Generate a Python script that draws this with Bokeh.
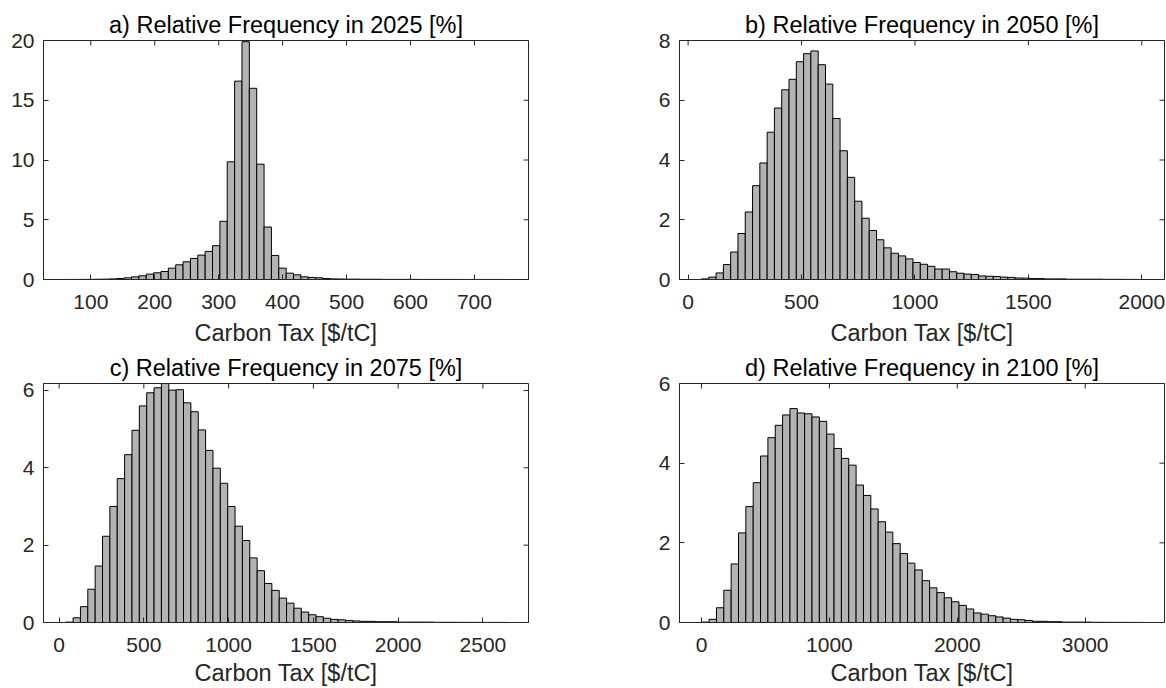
import numpy as np
from bokeh.plotting import figure
from bokeh.models import ColumnDataSource, FixedTicker, Range1d
from bokeh.layouts import column, row
from bokeh.embed import file_html
from bokeh.resources import INLINE

# ---------------- data ----------------
titles = ["a) Relative Frequency in 2025 [%]", "b) Relative Frequency in 2050 [%]",
          "c) Relative Frequency in 2075 [%]", "d) Relative Frequency in 2100 [%]"]
xlabel = "Carbon Tax [$/tC]"

# histogram bin range (min, max of carbon tax sample), 60 bins each
range_2025 = (60, 751)
range_2050 = (59, 1988)
range_2075 = (39, 2645)
range_2100 = (2, 3450)

freq_2025 = [0.005, 0.005, 0.01, 0.01, 0.02, 0.03, 0.05, 0.08, 0.14, 0.22,
             0.31, 0.45, 0.56, 0.67, 0.95, 1.23, 1.48, 1.76, 2.04, 2.35,
             2.83, 4.87, 9.85, 16.6, 19.9, 16.0, 9.65, 4.39, 2.01, 0.95,
             0.53, 0.39, 0.22, 0.17, 0.14, 0.08, 0.05, 0.04, 0.03, 0.03,
             0.02, 0.02, 0.02, 0.01, 0.01, 0.01, 0.01, 0.01, 0.005, 0.005,
             0.005, 0.005, 0.004, 0.004, 0.003, 0.003, 0.003, 0.002, 0.002, 0.002]
freq_2050 = [0.02, 0.08, 0.22, 0.50, 0.92, 1.54, 2.26, 3.14, 3.90, 4.93,
             5.74, 6.35, 6.70, 7.29, 7.56, 7.65, 7.19, 6.54, 5.39, 4.31,
             3.42, 2.62, 2.05, 1.64, 1.33, 1.06, 0.88, 0.79, 0.69, 0.57,
             0.51, 0.44, 0.35, 0.35, 0.26, 0.21, 0.18, 0.17, 0.12, 0.11,
             0.10, 0.08, 0.07, 0.05, 0.045, 0.03, 0.03, 0.02, 0.02, 0.02,
             0.01, 0.01, 0.01, 0.01, 0.01, 0.005, 0.005, 0.005, 0.003, 0.003]
freq_2075 = [0.01, 0.12, 0.41, 0.86, 1.46, 2.23, 3.00, 3.72, 4.34, 4.97,
             5.60, 5.94, 6.07, 6.18, 6.01, 6.02, 5.68, 5.45, 4.98, 4.45,
             3.99, 3.60, 3.00, 2.49, 2.12, 1.67, 1.34, 1.01, 0.83, 0.63,
             0.50, 0.37, 0.27, 0.20, 0.15, 0.11, 0.08, 0.07, 0.05, 0.04,
             0.03, 0.03, 0.02, 0.02, 0.02, 0.01, 0.01, 0.01, 0.01, 0.01,
             0.005, 0.005, 0.005, 0.004, 0.004, 0.003, 0.003, 0.002, 0.002, 0.002]
freq_2100 = [0.01, 0.08, 0.37, 0.81, 1.47, 2.25, 2.91, 3.51, 4.18, 4.64,
             4.95, 5.21, 5.37, 5.26, 5.24, 5.16, 5.05, 4.73, 4.37, 4.12,
             3.95, 3.45, 3.19, 2.85, 2.53, 2.27, 1.98, 1.73, 1.49, 1.32,
             1.05, 0.87, 0.75, 0.62, 0.52, 0.43, 0.34, 0.24, 0.21, 0.17,
             0.14, 0.11, 0.08, 0.07, 0.05, 0.03, 0.03, 0.02, 0.02, 0.01,
             0.01, 0.01, 0.01, 0.005, 0.005, 0.004, 0.003, 0.003, 0.002, 0.002]

xticks_2025 = [100, 200, 300, 400, 500, 600, 700]
xticks_2050 = [0, 500, 1000, 1500, 2000]
xticks_2075 = [0, 500, 1000, 1500, 2000, 2500]
xticks_2100 = [0, 1000, 2000, 3000]
yticks_2025 = [0, 5, 10, 15, 20]
yticks_2050 = [0, 2, 4, 6, 8]
yticks_2075 = [0, 2, 4, 6]
yticks_2100 = [0, 2, 4, 6]

# ---------------- styling ----------------
AX = "#262626"
FONT = "Liberation Sans"
FW = 485
FH = 239


def style_axis(ax, ticks):
    ax.ticker = FixedTicker(ticks=ticks)
    ax.major_tick_in = 5
    ax.major_tick_out = 0
    ax.minor_tick_in = 0
    ax.minor_tick_out = 0
    ax.axis_line_color = AX
    ax.major_tick_line_color = AX
    ax.major_label_text_font = FONT
    ax.major_label_text_color = AX
    ax.major_label_text_font_size = "21px"


def panel(freq, rng, title, xr, yr, xticks, yticks, bl, br, bt, bb, lab_gap):
    n = len(freq)
    edges = np.linspace(rng[0], rng[1], n + 1)
    src = ColumnDataSource(dict(left=edges[:-1], right=edges[1:], top=freq,
                                bottom=[0.0] * n))
    p = figure(width=bl + FW + br, height=bt + FH + bb,
               frame_width=FW, frame_height=FH,
               output_backend="svg", toolbar_location=None,
               x_range=Range1d(*xr), y_range=Range1d(*yr),
               min_border_left=bl, min_border_right=br,
               min_border_top=bt, min_border_bottom=bb)
    p.quad(left="left", right="right", top="top", bottom="bottom", source=src,
           fill_color="#b3b3b3", line_color="black", line_width=1)
    p.xgrid.visible = False
    p.ygrid.visible = False
    p.outline_line_color = AX
    p.background_fill_color = "white"
    p.border_fill_color = "white"

    style_axis(p.xaxis[0], xticks)
    style_axis(p.yaxis[0], yticks)
    p.xaxis[0].major_label_standoff = 15
    p.yaxis[0].major_label_standoff = 9
    p.xaxis[0].axis_label = xlabel
    p.xaxis[0].axis_label_text_font = FONT
    p.xaxis[0].axis_label_text_font_size = "23.5px"
    p.xaxis[0].axis_label_text_font_style = "normal"
    p.xaxis[0].axis_label_text_color = AX
    p.xaxis[0].axis_label_standoff = lab_gap

    # inward tick marks on the top and right edges of the box (outer half clipped)
    p.scatter(x=xticks, y=[yr[1]] * len(xticks), marker="dash", size=10,
              angle=np.pi / 2, line_color=AX, line_width=1)
    p.scatter(x=[xr[1]] * len(yticks), y=yticks, marker="dash", size=10,
              line_color=AX, line_width=1)

    p.title.text = title
    p.title.align = "center"
    p.title.text_font = FONT
    p.title.text_font_size = "23.5px"
    p.title.text_font_style = "normal"
    p.title.text_color = "black"
    p.title.standoff = 5
    return p


pa = panel(freq_2025, range_2025, titles[0], (26, 784.5), (0, 20),
           xticks_2025, yticks_2025, 43, 55, 40, 69, 8)
pb = panel(freq_2050, range_2050, titles[1], (-38, 2100), (0, 8),
           xticks_2050, yticks_2050, 96, 2, 40, 69, 8)
pc = panel(freq_2075, range_2075, titles[2], (-92, 2769), (0, 6.18),
           xticks_2075, yticks_2075, 43, 55, 35, 66, 5)
pd = panel(freq_2100, range_2100, titles[3], (-172, 3620), (0, 6),
           xticks_2100, yticks_2100, 96, 2, 35, 66, 5)

layout = column(row(pa, pb), row(pc, pd))
open("out.html", "w").write(file_html(layout, INLINE))
